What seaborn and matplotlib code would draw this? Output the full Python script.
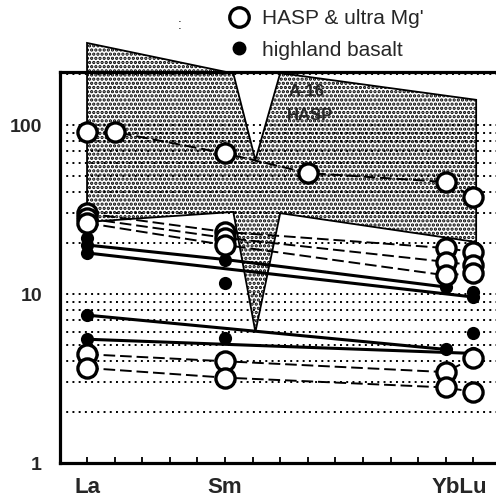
import numpy as np
import pandas as pd
import matplotlib
matplotlib.use("Agg")
import matplotlib.pyplot as plt
import seaborn as sns
from matplotlib.ticker import LogLocator, FixedLocator, NullFormatter, FixedFormatter
from matplotlib.lines import Line2D

sns.set_theme(style="white")
plt.rcParams['font.family'] = ['Liberation Sans', 'DejaVu Sans']
plt.rcParams['hatch.linewidth'] = 1.6

# ---------------- data ----------------
elements = ["La", "Ce", "Pr", "Nd", "Pm", "Sm", "Eu", "Gd", "Tb", "Dy", "Ho", "Er", "Tm", "Yb", "Lu"]
tick_labels = ["La", "Sm", "YbLu"]
tick_label_positions = [0, 5, 13.5]
y_tick_values = [1, 10, 100]
y_tick_labels = ["1", "10", "100"]

# A-16 HASP field outline (element position, chondrite-normalised value)
field_upper_x = [0, 5.3, 6.1, 7.0, 14.1]
field_upper_v = [306, 202, 62, 203, 141]
field_lower_x = [14.1, 7.0, 6.1, 5.3, 0]
field_lower_v = [20.3, 30.1, 5.96, 30.6, 26.7]

# HASP & ultra Mg' samples (open circles, dashed lines)
hasp_1 = {"La": 91, "Ce": 91, "Sm": 68, "Tb": 52, "Yb": 46, "Lu": 37.5}
hasp_2 = {"La": 30, "Sm": 23.3, "Yb": 18.7, "Lu": 17.7}
hasp_3 = {"La": 28, "Sm": 21.5, "Yb": 15.5, "Lu": 14.8}
hasp_4 = {"La": 26.3, "Sm": 19.5, "Yb": 12.9, "Lu": 13.3}
hasp_5 = {"La": 4.4, "Sm": 4.0, "Yb": 3.45, "Lu": 4.2}
hasp_6 = {"La": 3.65, "Sm": 3.2, "Yb": 2.8, "Lu": 2.63}
hasp_samples = [hasp_1, hasp_2, hasp_3, hasp_4, hasp_5, hasp_6]

# highland basalt samples (filled dots, solid lines)
hb_1 = {"La": 19.5, "Sm": 16.0, "Yb": 11.0}
hb_2 = {"La": 17.5, "Lu": 9.6}
hb_3 = {"La": 7.5, "Yb": 4.7}
hb_4 = {"La": 5.4, "Lu": 4.45}
hb_lined = [hb_1, hb_2, hb_3, hb_4]
# highland basalt analyses shown as points only
hb_pts_1 = {"La": 21.5, "Sm": 11.6, "Lu": 10.3}
hb_pts_2 = {"Sm": 5.5, "Lu": 5.9}
hb_pts_3 = {"Sm": 3.9, "Yb": 3.2}
hb_points = [hb_pts_1, hb_pts_2, hb_pts_3]


def to_df(sample):
    return pd.DataFrame({"pos": [elements.index(k) for k in sample],
                         "value": list(sample.values())})


# ---------------- figure ----------------
W, H = 496, 501
fig = plt.figure(figsize=(W / 100, H / 100), dpi=100)
ax = fig.add_axes([60 / W, (H - 463) / H, 441 / W, 391 / H])
ax.set_yscale("log")
ax.set_xlim(-0.98, 15.0)
ax.set_ylim(1, 206)
ax.set_facecolor("white")
ax.set_axisbelow("line")

# field
fx = field_upper_x + field_lower_x
fv = field_upper_v + field_lower_v
ax.fill(fx, fv, facecolor="white", edgecolor="black", hatch="....",
        linewidth=1.3, clip_on=False, zorder=1)

# lines
for s in hasp_samples:
    sns.lineplot(data=to_df(s), x="pos", y="value", ax=ax, color="black",
                 linewidth=1.4, linestyle=(0, (6, 2.5)), zorder=2,
                 estimator=None, sort=True, legend=False)
for s in hb_lined:
    sns.lineplot(data=to_df(s), x="pos", y="value", ax=ax, color="black",
                 linewidth=2.2, zorder=2, estimator=None, sort=True, legend=False)

# markers
for s in hb_lined + hb_points:
    sns.scatterplot(data=to_df(s), x="pos", y="value", ax=ax, color="black",
                    s=90, edgecolor="black", linewidth=0, zorder=4, legend=False)
for s in hasp_samples:
    sns.scatterplot(data=to_df(s), x="pos", y="value", ax=ax, color="white",
                    s=190, edgecolor="black", linewidth=2.4, zorder=5, legend=False)

# grid
ax.yaxis.set_major_locator(FixedLocator(y_tick_values))
ax.yaxis.set_major_formatter(FixedFormatter(y_tick_labels))
ax.yaxis.set_minor_locator(LogLocator(base=10, subs=np.arange(2, 10)))
ax.yaxis.set_minor_formatter(NullFormatter())
ax.grid(True, which="both", axis="y", color="black", linestyle=(0, (1.0, 2.2)), linewidth=1.4)
ax.grid(False, axis="x")
ax.tick_params(axis="y", which="both", length=0, pad=13, labelsize=14)
for t in ax.get_yticklabels():
    t.set_fontweight("bold")

ax.xaxis.remove_overlapping_locs = False
ax.xaxis.set_major_locator(FixedLocator(tick_label_positions))
ax.xaxis.set_major_formatter(FixedFormatter(tick_labels))
ax.xaxis.set_minor_locator(FixedLocator(list(range(len(elements)))))
ax.tick_params(axis="x", which="major", length=0, pad=10, labelsize=16)
ax.tick_params(axis="x", which="minor", direction="in", length=4, width=1.3,
               color="black", bottom=True)
for t in ax.get_xticklabels():
    t.set_fontweight("bold")
ax.set_xlabel("")
ax.set_ylabel("")

for sp in ax.spines.values():
    sp.set_visible(True)
    sp.set_color("black")
    sp.set_linewidth(2.3)
    sp.set_zorder(6)

ax.text((289 - 60) / 441, 1 - (92 - 72) / 391, "A-16", transform=ax.transAxes,
        fontsize=12, fontweight="bold", va="center", ha="left", zorder=7)
ax.text((287 - 60) / 441, 1 - (115 - 72) / 391, "HASP", transform=ax.transAxes,
        fontsize=12, fontweight="bold", va="center", ha="left", zorder=7)

handles = [Line2D([], [], marker="o", ls="none", mfc="white", mec="black", ms=14, mew=2.4),
           Line2D([], [], marker="o", ls="none", mfc="black", mec="black", ms=9)]
ax.legend(handles, ["HASP & ultra Mg'", "highland basalt"], loc="upper left",
          bbox_to_anchor=(225 / W, 1 - 9 / H), bbox_transform=fig.transFigure,
          frameon=False, fontsize=15, handlelength=1.3, handletextpad=0.5,
          borderpad=0, borderaxespad=0, labelspacing=0.6)
fig.text(180 / W, 1 - 25 / H, ":", fontsize=10, ha="center", va="center")

fig.savefig("out.png", dpi=100, facecolor="white")
